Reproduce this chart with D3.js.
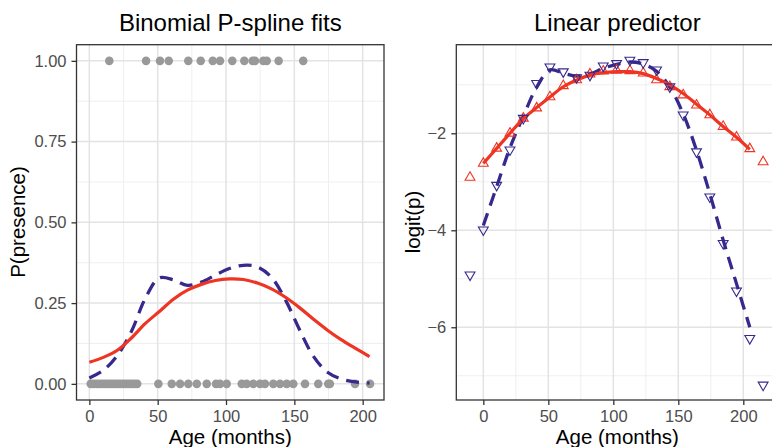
<!DOCTYPE html>
<html lang="en">
<head>
<meta charset="UTF-8">
<title>Binomial P-spline fits</title>
<style>
  body, html { margin: 0; padding: 0; background: #fff; }
  svg { display: block; font-family: "Liberation Sans", Arial, sans-serif; }
</style>
<script src="https://d3js.org/d3.v7.min.js"></script>
</head>
<body>
<div id="chart"></div>
<script>
// ages (months) of observed presences / absences
const presenceAges = [14.6, 41.5, 51.7, 58.1, 72.4, 81.5, 90.3, 95.6, 104.6, 113.4, 119.5, 121.2, 127.3, 129.8, 138.5, 156.5];
const absenceAges = [1, 3, 5, 7, 9, 11, 13, 15, 17, 19, 21, 23, 25, 27, 29, 31, 33, 35,
  50.5, 60.3, 66.4, 72.4, 78.6, 85.9, 92.7, 95.6, 100.5, 111.5, 115.1, 120, 124.9, 128.5,
  134.6, 139.5, 144.4, 149.2, 157.8, 167.5, 174.8, 176, 194.4, 205.4];

// fitted curves evaluated at the knot positions 0..205
const fitAges = [0, 10.25, 20.5, 30.75, 41, 51.25, 61.5, 71.75, 82, 92.25, 102.5,
  112.75, 123, 133.25, 143.5, 153.75, 164, 174.25, 184.5, 194.75, 205];
const probSmooth = [0.067, 0.082, 0.104, 0.142, 0.187, 0.224, 0.262, 0.290, 0.308, 0.320, 0.325,
  0.323, 0.312, 0.294, 0.268, 0.236, 0.200, 0.166, 0.136, 0.110, 0.084];
const probWiggly = [0.018, 0.042, 0.088, 0.162, 0.265, 0.328, 0.322, 0.305, 0.315, 0.337, 0.357,
  0.367, 0.362, 0.330, 0.260, 0.168, 0.085, 0.036, 0.015, 0.006, 0.0025];
const etaSmooth = [-2.62, -2.31, -2.00, -1.70, -1.47, -1.25, -1.04, -0.90, -0.80, -0.75, -0.73,
  -0.73, -0.77, -0.87, -1.00, -1.18, -1.40, -1.62, -1.86, -2.08, -2.33];
const etaWiggly = [-3.90, -3.10, -2.30, -1.65, -1.05, -0.69, -0.76, -0.82, -0.78, -0.66, -0.58,
  -0.53, -0.57, -0.72, -1.05, -1.60, -2.35, -3.25, -4.20, -5.10, -6.00];

// B-spline coefficients, plotted at their knot centres
const coefAges = [-10.25, 0, 10.25, 20.5, 30.75, 41, 51.25, 61.5, 71.75, 82, 92.25, 102.5,
  112.75, 123, 133.25, 143.5, 153.75, 164, 174.25, 184.5, 194.75, 205, 215.25];
const coefSmooth = [-2.91, -2.62, -2.31, -2.00, -1.69, -1.48, -1.25, -1.02, -0.90, -0.78, -0.72, -0.70,
  -0.71, -0.76, -0.90, -1.04, -1.21, -1.42, -1.62, -1.86, -2.08, -2.32, -2.59];
const coefWiggly = [-4.92, -3.99, -3.07, -2.34, -1.69, -0.97, -0.63, -0.73, -0.85, -0.80, -0.61, -0.56,
  -0.49, -0.54, -0.69, -1.04, -1.62, -2.38, -3.31, -4.27, -5.25, -6.23, -7.19];

const xTicks = [0, 50, 100, 150, 200];
const xMinor = [25, 75, 125, 175];

const RED = "#ee3524", BLUE = "#36298d";
const W = 772, H = 447;

const svg = d3.select("#chart").append("svg")
  .attr("width", W).attr("height", H);

function panel(opt) {
  const x = d3.scaleLinear().domain(opt.xDomain).range(opt.xRange);
  const y = d3.scaleLinear().domain(opt.yDomain).range([400, 44.7]);
  const g = svg.append("g");

  // grid
  g.selectAll(".ymin").data(opt.yMinor).join("line")
    .attr("x1", opt.xRange[0]).attr("x2", opt.xRange[1])
    .attr("y1", d => y(d)).attr("y2", d => y(d))
    .attr("stroke", "#ebebeb").attr("stroke-width", 0.8);
  g.selectAll(".xmin").data(xMinor).join("line")
    .attr("y1", 44.7).attr("y2", 400)
    .attr("x1", d => x(d)).attr("x2", d => x(d))
    .attr("stroke", "#ebebeb").attr("stroke-width", 0.8);
  g.selectAll(".ymaj").data(opt.yTicks).join("line")
    .attr("x1", opt.xRange[0]).attr("x2", opt.xRange[1])
    .attr("y1", d => y(d)).attr("y2", d => y(d))
    .attr("stroke", "#e3e3e3").attr("stroke-width", 1.5);
  g.selectAll(".xmaj").data(xTicks).join("line")
    .attr("y1", 44.7).attr("y2", 400)
    .attr("x1", d => x(d)).attr("x2", d => x(d))
    .attr("stroke", "#e3e3e3").attr("stroke-width", 1.5);

  opt.draw(g, x, y);

  // border
  g.append("rect")
    .attr("x", opt.xRange[0]).attr("y", 44.7)
    .attr("width", opt.xRange[1] - opt.xRange[0]).attr("height", 400 - 44.7)
    .attr("fill", "none").attr("stroke", "#333").attr("stroke-width", 1.3);

  // axes
  const ax = g.append("g").attr("transform", "translate(0,400)")
    .call(d3.axisBottom(x).tickValues(xTicks).tickSize(5).tickPadding(5));
  const ay = g.append("g").attr("transform", `translate(${opt.xRange[0]},0)`)
    .call(d3.axisLeft(y).tickValues(opt.yTicks).tickFormat(opt.yFormat).tickSize(5).tickPadding(5));
  [ax, ay].forEach(a => {
    a.select(".domain").remove();
    a.selectAll(".tick line").attr("stroke", "#333").attr("stroke-width", 1.3);
    a.selectAll(".tick text").attr("fill", "#4d4d4d")
      .style("font-size", "16.5px").style("font-family", "Liberation Sans, Arial, sans-serif");
  });

  g.append("text").attr("x", (opt.xRange[0] + opt.xRange[1]) / 2).attr("y", 30.5)
    .attr("text-anchor", "middle").style("font-size", "24px").text(opt.title);
  g.append("text").attr("x", (opt.xRange[0] + opt.xRange[1]) / 2).attr("y", 444)
    .attr("text-anchor", "middle").style("font-size", "20.5px").text("Age (months)");
  g.append("text")
    .attr("transform", `translate(${opt.yLabelX},222) rotate(-90)`)
    .attr("text-anchor", "middle").style("font-size", "20.5px").text(opt.yLabel);
}

function triangle(g, x, y, xs, ys, color, down) {
  const sym = d3.symbol().type(d3.symbolTriangle).size(42);
  g.selectAll(null).data(xs.map((d, i) => [d, ys[i]])).join("path")
    .attr("d", sym)
    .attr("transform", d => `translate(${x(d[0])},${y(d[1])})` + (down ? " rotate(180)" : ""))
    .attr("fill", "none").attr("stroke", color).attr("stroke-width", 1.1);
}

// left panel: probability scale
panel({
  title: "Binomial P-spline fits",
  xDomain: [-9.4, 215.6], xRange: [76.5, 384],
  yDomain: [-0.05, 1.05],
  yTicks: [0, 0.25, 0.5, 0.75, 1], yMinor: [0.125, 0.375, 0.625, 0.875],
  yFormat: d3.format(".2f"),
  yLabel: "P(presence)", yLabelX: 25,
  draw: (g, x, y) => {
    g.selectAll(null).data(absenceAges).join("circle")
      .attr("cx", d => x(d)).attr("cy", y(0)).attr("r", 4.3).attr("fill", "#999");
    g.selectAll(null).data(presenceAges).join("circle")
      .attr("cx", d => x(d)).attr("cy", y(1)).attr("r", 4.3).attr("fill", "#999");
    const line = d3.line().x((d, i) => x(fitAges[i])).y(d => y(d)).curve(d3.curveCatmullRom);
    g.append("path").attr("d", line(probWiggly)).attr("fill", "none")
      .attr("stroke", BLUE).attr("stroke-width", 3.3).attr("stroke-dasharray", "13,8");
    g.append("path").attr("d", line(probSmooth)).attr("fill", "none")
      .attr("stroke", RED).attr("stroke-width", 3.2);
  }
});

// right panel: linear predictor
panel({
  title: "Linear predictor",
  xDomain: [-20.8, 227], xRange: [456.3, 778.4],
  yDomain: [-7.5, -0.173],
  yTicks: [-2, -4, -6], yMinor: [-1, -3, -5, -7],
  yFormat: d => "\u2212" + Math.abs(d),
  yLabel: "logit(p)", yLabelX: 420,
  draw: (g, x, y) => {
    const line = d3.line().x((d, i) => x(fitAges[i])).y(d => y(d)).curve(d3.curveCatmullRom);
    g.append("path").attr("d", line(etaWiggly)).attr("fill", "none")
      .attr("stroke", BLUE).attr("stroke-width", 3.3).attr("stroke-dasharray", "13,8");
    g.append("path").attr("d", line(etaSmooth)).attr("fill", "none")
      .attr("stroke", RED).attr("stroke-width", 3.2);
    triangle(g, x, y, coefAges, coefSmooth, RED, false);
    triangle(g, x, y, coefAges, coefWiggly, BLUE, true);
  }
});
</script>
</body>
</html>
